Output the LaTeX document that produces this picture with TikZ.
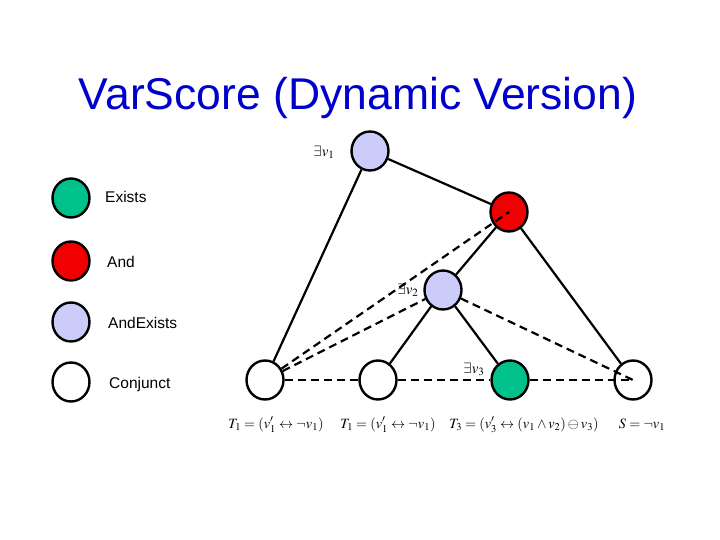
\documentclass[tikz,border=0pt]{standalone}
\usepackage{mathptmx}
\usepackage{fontspec}
\setmainfont{Liberation Sans}
\usepackage{tikz}
\usetikzlibrary{shapes.geometric}
\definecolor{existsgreen}{RGB}{0,192,140}
\definecolor{andred}{RGB}{240,0,0}
\definecolor{andexistsblue}{RGB}{204,204,250}
\definecolor{titleblue}{RGB}{0,0,204}
\tikzset{
  gate/.style={
    shape=ellipse,
    draw,
    line width=2.4pt,
    minimum width=37pt,
    minimum height=39pt,
    inner sep=0pt,
  },
  existsgate/.style={gate, fill=existsgreen},
  andgate/.style={gate, fill=andred},
  andexistsgate/.style={gate, fill=andexistsblue},
  conjunct/.style={gate, fill=white},
  legendtext/.style={anchor=base west, inner sep=0pt, font=\fontsize{15.5}{18}\selectfont},
  quant/.style={font=\fontsize{15}{17}\selectfont, inner sep=0pt},
  formula/.style={anchor=base, font=\fontsize{14.2}{17}\selectfont, inner sep=0pt},
  tree/.style={line width=2.2pt},
  link/.style={line width=2.2pt, dash pattern=on 8pt off 5pt}
}

\begin{document}
\begin{tikzpicture}[x=1pt, y=-1pt]
\useasboundingbox (0,0) rectangle (720,540);

% Title
\node[anchor=base, text=titleblue, font=\fontsize{44.5}{50}\selectfont] (title) at (358,110) {VarScore (Dynamic Version)};

% Legend
\node[existsgate] (legexists) at (71,198) {};
\node[andgate] (legand) at (71,261) {};
\node[andexistsgate] (legandexists) at (71,322) {};
\node[conjunct] (legconjunct) at (71,382) {};
\node[legendtext] (txtexists) at (105,203) {Exists};
\node[legendtext] (txtand) at (107,267) {And};
\node[legendtext] (txtandexists) at (108,328) {AndExists};
\node[legendtext] (txtconjunct) at (109,388) {Conjunct};

% Tree
\node[andexistsgate] (v1) at (370,151) {};
\node[andgate] (and) at (509,212) {};
\node[andexistsgate] (v2) at (443,290) {};
\node[conjunct] (c1) at (265,380) {};
\node[conjunct] (c2) at (378,380) {};
\node[existsgate] (v3) at (510,380) {};
\node[conjunct] (s) at (633,380) {};

\node[quant] (qv1) at (324,152) {$\exists v_1$};
\node[quant] (qv2) at (408,290) {$\exists v_2$};
\node[quant] (qv3) at (474,369) {$\exists v_3$};

\draw[tree] (v1) -- (c1);
\draw[tree] (v1) -- (and);
\draw[tree] (and) -- (v2);
\draw[tree] (and) -- (s);
\draw[tree] (v2) -- (c2);
\draw[tree] (v2) -- (v3);

\draw[link] (c1) -- (and.center);
\draw[link] (c1) -- (v2);
\draw[link] (v2) -- (s.center);
\draw[link] (c1) -- (c2);
\draw[link] (c2) -- (v3);
\draw[link] (v3) -- (s.center);

% Conjuncts
\node[formula] (f1) at (276,428) {$T_1=(v'_1\leftrightarrow\neg v_1)$};
\node[formula] (f2) at (388,428) {$T_1=(v'_1\leftrightarrow\neg v_1)$};
\node[formula] (f3) at (524,428) {$T_3=(v'_3\leftrightarrow(v_1\wedge v_2)\ominus v_3)$};
\node[formula] (f4) at (642,428) {$S=\neg v_1$};

\end{tikzpicture}
\end{document}
